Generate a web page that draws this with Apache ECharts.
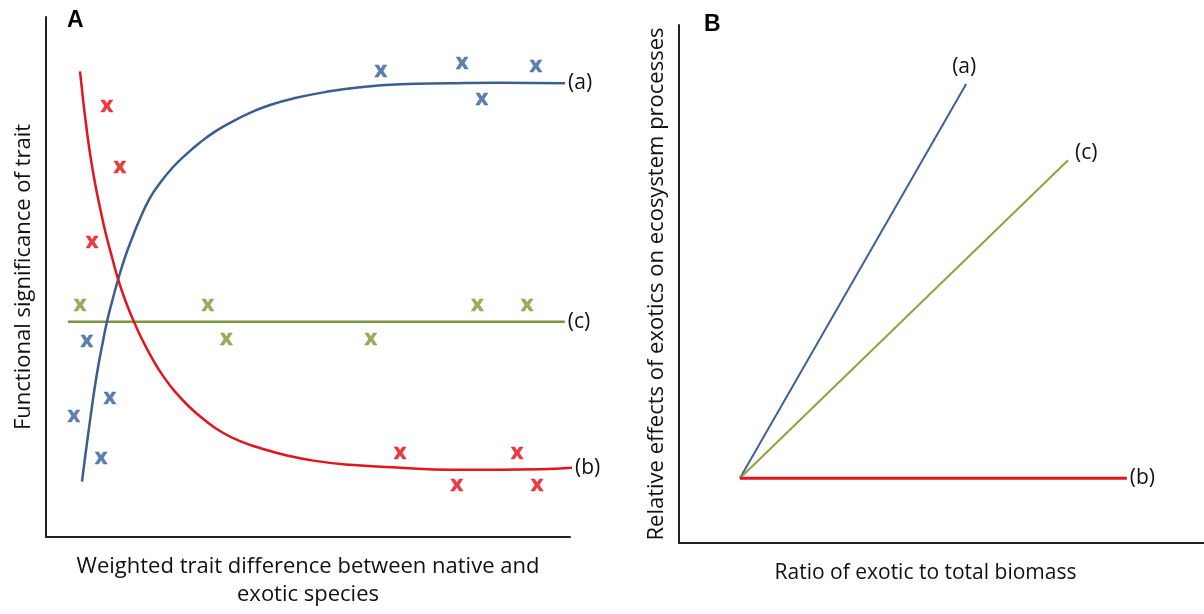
<!DOCTYPE html>
<html>
<head>
<meta charset="utf-8">
<script src="https://cdn.jsdelivr.net/npm/echarts@6/dist/echarts.min.js"></script>
<style>
  html, body { margin: 0; padding: 0; background: #fff; }
  #chart { width: 1204px; height: 614px; }
</style>
</head>
<body>
<div id="chart"></div>
<script>
// panel A: curves (axis units 0-10, no ticks shown)
const curveA = [[0.687,1.065],[0.744,1.521],[0.802,1.958],[0.859,2.376],[0.935,2.909],[1.011,3.365],[1.069,3.669],[1.164,4.144],[1.260,4.525],[1.374,4.943],[1.508,5.380],[1.641,5.741],[1.794,6.122],[1.985,6.521],[2.176,6.806],[2.405,7.091],[2.653,7.338],[2.939,7.586],[3.225,7.795],[3.550,7.985],[3.893,8.156],[4.275,8.308],[4.752,8.441],[5.324,8.555],[5.992,8.650],[6.756,8.707],[7.710,8.726],[8.664,8.736],[9.905,8.726]]
const curveB = [[0.649,8.954],[0.706,8.422],[0.763,7.947],[0.840,7.376],[0.935,6.806],[1.031,6.331],[1.145,5.817],[1.260,5.380],[1.374,4.962],[1.508,4.563],[1.660,4.183],[1.832,3.802],[2.023,3.441],[2.233,3.099],[2.462,2.795],[2.748,2.490],[3.034,2.243],[3.359,2.015],[3.702,1.844],[4.084,1.711],[4.561,1.578],[5.134,1.464],[5.802,1.388],[6.756,1.331],[7.710,1.293],[8.664,1.293],[9.427,1.302],[10.057,1.331]]
const curveC = [[0.42,4.14],[9.90,4.14]]
// the x marks
const marksA = [[6.39,8.97],[7.94,9.13],[9.35,9.07],[8.32,8.42],[0.78,3.78],[0.53,2.34],[1.22,2.68],[1.05,1.52]]
const marksB = [[1.16,8.29],[1.41,7.13],[0.88,5.67],[6.76,1.62],[8.99,1.62],[7.84,1.01],[9.37,1.01]]
const marksC = [[0.65,4.47],[3.09,4.47],[3.44,3.82],[6.20,3.82],[8.23,4.47],[9.18,4.47]]
// panel B: straight lines from a common origin
const lineA = [[1.16,1.25],[5.47,8.86]]
const lineB = [[1.16,1.25],[8.53,1.25]]
const lineC = [[1.16,1.25],[7.41,7.39]]

const BLUE = '#3b5e8e'
const RED = '#e3141d'
const GREEN = '#7a983a'
const TXT = '#111'
const FONT = 'Open Sans'

const chart = echarts.init(document.getElementById('chart'))

function axisBase(i) {
  return {
    type: 'value', gridIndex: i, min: 0, max: 10,
    axisLine: { show: true, lineStyle: { color: '#222', width: 2 } },
    axisTick: { show: false },
    axisLabel: { show: false },
    splitLine: { show: false },
    nameLocation: 'middle',
    nameTextStyle: { color: TXT, fontFamily: FONT, fontSize: 22 }
  }
}

function endLbl(text, extra) {
  return Object.assign({ show: true, formatter: text, color: TXT, fontFamily: FONT, fontSize: 21, distance: 3 }, extra || {})
}

function curve(data, color, width, xi, label, extra) {
  return Object.assign({
    type: 'line', xAxisIndex: xi, yAxisIndex: xi,
    data: data, showSymbol: false, clip: false,
    lineStyle: { color: color, width: width },
    endLabel: endLbl(label)
  }, extra || {})
}

function marks(data, color) {
  return {
    type: 'scatter', xAxisIndex: 0, yAxisIndex: 0, data: data,
    symbolSize: 1, itemStyle: { color: 'transparent' },
    label: { show: true, position: 'inside', formatter: 'x', color: color, fontFamily: FONT, fontWeight: 'bold', fontSize: 22,
      textBorderColor: color, textBorderWidth: 0.4 }
  }
}

const option = {
  animation: false,
  title: [
    { text: 'A', left: 62, top: 4, textStyle: { fontFamily: 'Liberation Sans', fontWeight: 'bold', fontSize: 23, color: '#000' } },
    { text: 'B', left: 699, top: 8, textStyle: { fontFamily: 'Liberation Sans', fontWeight: 'bold', fontSize: 23, color: '#000' } }
  ],
  grid: [
    { left: 46, top: 17, width: 524, height: 526 },
    { left: 679, top: 25, right: 0, height: 518 }
  ],
  xAxis: [
    Object.assign(axisBase(0), { name: 'Weighted trait difference between native and\nexotic species', nameGap: 16,
      nameTextStyle: { color: TXT, fontFamily: FONT, fontSize: 22, lineHeight: 28 } }),
    Object.assign(axisBase(1), { name: 'Ratio of exotic to total biomass', nameGap: 16,
      nameTextStyle: { color: TXT, fontFamily: FONT, fontSize: 21, lineHeight: 28, padding: [0, 32, 0, 0] } })
  ],
  yAxis: [
    Object.assign(axisBase(0), { name: 'Functional significance of trait', nameGap: 11 }),
    Object.assign(axisBase(1), { name: 'Relative effects of exotics on ecosystem processes', nameGap: 11 })
  ],
  series: [
    curve(curveC, GREEN, 2.5, 0, '(c)'),
    curve(curveA, BLUE, 2.5, 0, '(a)', { smooth: 0.5 }),
    curve(curveB, RED, 2.5, 0, '(b)', { smooth: 0.5 }),
    marks(marksA, '#36609a'),
    marks(marksB, '#e50a16'),
    marks(marksC, '#7c9a34'),
    curve(lineA, '#40609a', 2, 1, '(a)', { endLabel: endLbl('(a)', { offset: [-17, -17] }) }),
    curve(lineC, '#8ea43a', 2, 1, '(c)', { endLabel: endLbl('(c)', { distance: 7, offset: [0, -7] }) }),
    curve(lineB, RED, 3, 1, '(b)')
  ]
}

chart.setOption(option)
</script>
</body>
</html>
